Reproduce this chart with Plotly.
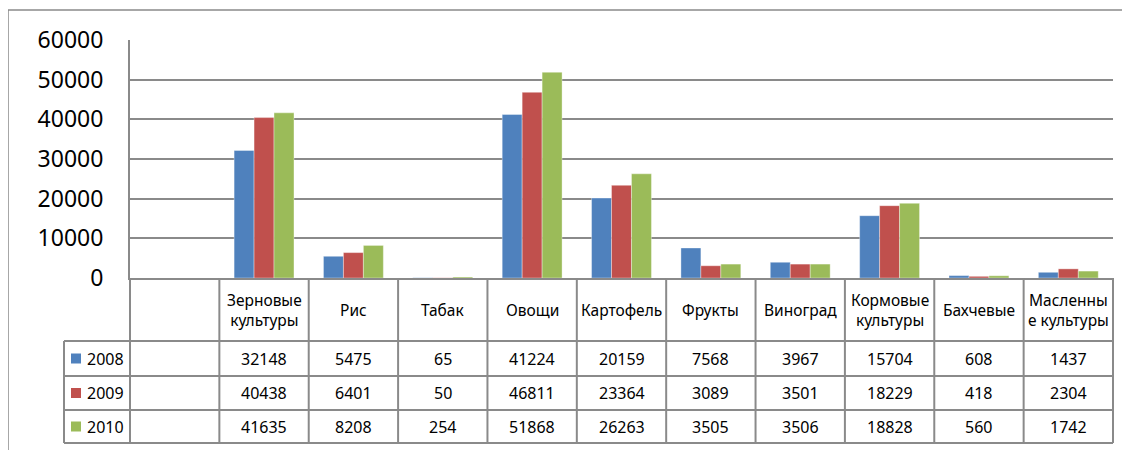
import plotly.graph_objects as go

categories = ["Зерновые культуры", "Рис", "Табак", "Овощи", "Картофель", "Фрукты",
              "Виноград", "Кормовые культуры", "Бахчевые", "Масленные культуры"]
header_labels = ["Зерновые<br>культуры", "Рис", "Табак", "Овощи", "Картофель", "Фрукты",
                 "Виноград", "Кормовые<br>культуры", "Бахчевые", "Масленны<br>е культуры"]
years = ["2008", "2009", "2010"]
v2008 = [32148, 5475, 65, 41224, 20159, 7568, 3967, 15704, 608, 1437]
v2009 = [40438, 6401, 50, 46811, 23364, 3089, 3501, 18229, 418, 2304]
v2010 = [41635, 8208, 254, 51868, 26263, 3505, 3506, 18828, 560, 1742]
series = [v2008, v2009, v2010]
colors = ["#4F81BD", "#C0504D", "#9BBB59"]
y_ticks = [0, 10000, 20000, 30000, 40000, 50000, 60000]

OFF = 8  # page body margin
W, H = 1130 - OFF, 450 - OFF
# plot area in window pixels
L, R, T, B = 130, 1113, 40, 278
FONT = "Noto Sans"
GRAY = "#8a8a8a"

xpos = list(range(1, len(categories) + 1))

fig = go.Figure()
for yr, vals, c in zip(years, series, colors):
    fig.add_trace(go.Bar(x=xpos, y=vals, name=yr, marker_color=c,
                         marker_line_color="rgba(255,255,255,0.6)", marker_line_width=0.6,
                         showlegend=False))


def py(p):
    return (B - p) / (B - T)


def pxp(p):
    return (p - L) / (R - L)


shapes = []
annotations = []
ncol = len(categories) + 1
for i in range(ncol + 1):
    shapes.append(dict(type="line", xref="x domain", yref="paper",
                       x0=i / ncol, x1=i / ncol, y0=py(B), y1=py(443),
                       line=dict(color=GRAY, width=2)))
leg_left = pxp(64)
shapes.append(dict(type="line", xref="paper", yref="paper",
                   x0=leg_left, x1=leg_left, y0=py(341), y1=py(443),
                   line=dict(color=GRAY, width=2)))
row_edges = [341, 376, 410, 443]
for r in row_edges:
    shapes.append(dict(type="line", xref="paper", yref="paper",
                       x0=leg_left, x1=1, y0=py(r), y1=py(r),
                       line=dict(color=GRAY, width=2)))
# outer frame
shapes.append(dict(type="rect", xref="paper", yref="paper",
                   x0=pxp(8), x1=pxp(1160), y0=py(10), y1=py(490),
                   line=dict(color=GRAY, width=1.5), fillcolor="rgba(0,0,0,0)"))

for x, lab in zip(xpos, header_labels):
    annotations.append(dict(x=x, y=py(309.5), xref="x", yref="paper", text=lab,
                            showarrow=False, font=dict(family=FONT, size=15.5, color="black"),
                            xanchor="center", yanchor="middle"))
row_centers = [358.5, 393, 426.5]
for yr, vals, c, rc in zip(years, series, colors, row_centers):
    for x, v in zip(xpos, vals):
        annotations.append(dict(x=x, y=py(rc), xref="x", yref="paper", text=str(v),
                                showarrow=False, font=dict(family=FONT, size=16, color="black"),
                                xanchor="center", yanchor="middle"))
    shapes.append(dict(type="rect", xref="paper", yref="paper",
                       x0=pxp(71), x1=pxp(81), y0=py(rc - 5), y1=py(rc + 5),
                       fillcolor=c, line=dict(width=0)))
    annotations.append(dict(x=pxp(85), y=py(rc), xref="paper", yref="paper",
                            text=yr, showarrow=False,
                            font=dict(family=FONT, size=16, color="black"),
                            xanchor="left", yanchor="middle"))

fig.update_layout(
    width=W, height=H,
    margin=dict(l=L - OFF, r=W - (R - OFF), t=T - OFF, b=H - (B - OFF)),
    paper_bgcolor="white", plot_bgcolor="white",
    barmode="group", bargap=0.33, bargroupgap=0,
    shapes=shapes, annotations=annotations,
    font=dict(family=FONT, color="black"),
    xaxis=dict(range=[-0.5, len(categories) + 0.5], showticklabels=False,
               showgrid=False, zeroline=False, showline=True,
               linecolor=GRAY, linewidth=2, fixedrange=True),
    yaxis=dict(range=[0, 60000], tickvals=y_ticks, ticktext=[str(t) for t in y_ticks],
               showgrid=True, gridcolor=GRAY, gridwidth=2, zeroline=False,
               showline=True, linecolor=GRAY, linewidth=2,
               tickfont=dict(family=FONT, size=23, color="black"),
               ticks="", ticklabelstandoff=20, fixedrange=True),
)

fig.write_html("out.html", config={"displayModeBar": False})
